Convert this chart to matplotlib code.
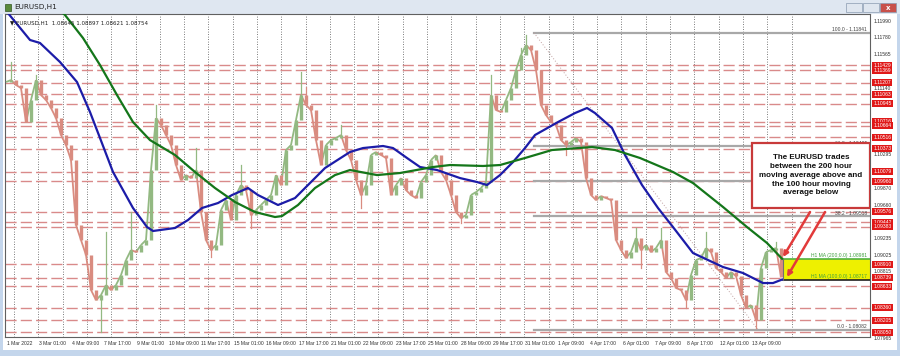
import numpy as np
import matplotlib
matplotlib.use("Agg")
import matplotlib.pyplot as plt
from matplotlib.patches import Rectangle
from matplotlib.collections import LineCollection
import matplotlib.transforms as mtransforms

# ── data ───────────────────────────────────────────────────────────────────
# EURUSD H1 closes, one value every 5 bars, 1 Mar 2022 -> 13 Apr 2022
STEP = 5
close = [
    1.11218, 1.11243, 1.11180, 1.11142, 1.10711, 1.10990, 1.11243, 1.11053,
    1.10990, 1.10889, 1.10762, 1.10547, 1.10420, 1.10230, 1.09407, 1.09217,
    1.09028, 1.08585, 1.08458, 1.08521, 1.08648, 1.08585, 1.08648, 1.08774,
    1.08964, 1.09091, 1.09066, 1.09154, 1.09217, 1.10104, 1.10762, 1.10673,
    1.10547, 1.10420, 1.10167, 1.09977, 1.10040, 1.10002, 1.10104, 1.09572,
    1.09217, 1.09091, 1.09154, 1.09597, 1.09724, 1.09471, 1.09787, 1.09914,
    1.09850, 1.09534, 1.09597, 1.09661, 1.09724, 1.09787, 1.10040, 1.09914,
    1.10357, 1.10420, 1.10737, 1.11053, 1.10927, 1.10863, 1.10483, 1.10167,
    1.10420, 1.10483, 1.10509, 1.10547, 1.10357, 1.10230, 1.09977, 1.09787,
    1.09914, 1.10294, 1.10332, 1.10294, 1.10256, 1.09787, 1.09914, 1.10002,
    1.09850, 1.09787, 1.09749, 1.09952, 1.10040, 1.10230, 1.10294, 1.10079,
    1.09977, 1.09787, 1.09572, 1.09496, 1.09534, 1.09787, 1.09825, 1.09876,
    1.09952, 1.11053, 1.10863, 1.10838, 1.10990, 1.11142, 1.11370, 1.11560,
    1.11686, 1.11623, 1.11370, 1.10927, 1.10800, 1.10711, 1.10673, 1.10483,
    1.10420, 1.10458, 1.10509, 1.10458, 1.10002, 1.09787, 1.09724, 1.09775,
    1.09749, 1.09724, 1.09217, 1.09091, 1.08990, 1.09066, 1.09243, 1.09091,
    1.09154, 1.09066, 1.09116, 1.09217, 1.08813, 1.08737, 1.08610, 1.08585,
    1.08458, 1.08774, 1.08964, 1.08990, 1.09116, 1.09066, 1.08863, 1.08813,
    1.08737, 1.08813, 1.08762, 1.08521, 1.08357, 1.08395, 1.08205, 1.08863,
    1.09066, 1.09091, 1.09116, 1.08754,
]
# notable wicks: index into close[] and the wick extreme
spike_idx = [1, 6, 19, 20, 25, 30, 38, 41, 47, 49, 59, 60, 67, 71, 91, 97,
             103, 104, 107, 112, 126, 127, 131, 136, 140, 150, 154]
spike_px = [1.11471, 1.11306, 1.08053, 1.09319, 1.09572, 1.10927, 1.10382,
            1.09002, 1.10167, 1.09370, 1.11344, 1.11155, 1.10673, 1.09623,
            1.09433, 1.11306, 1.11648, 1.11813, 1.11306, 1.10294, 1.09370,
            1.08863, 1.09370, 1.08357, 1.09319, 1.08103, 1.09192]

# 100 hour MA (blue) and 200 hour MA (green), bar position / value
ma100_bar = [2, 6, 24, 34, 54, 71, 84, 94, 107, 127, 141, 147, 169, 182, 196,
             212, 226, 242, 252, 272, 289, 302, 319, 344, 357, 377, 387, 401,
             414, 431, 454, 471, 481, 494, 507, 519, 529, 552, 569, 581, 589,
             606, 619, 636, 652, 667, 687, 717, 737, 757, 767, 776]
ma100 = [1.12090, 1.12028, 1.11750, 1.11712, 1.11471, 1.11218, 1.10838,
         1.10509, 1.10079, 1.09623, 1.09382, 1.09332, 1.09370, 1.09471,
         1.09623, 1.09686, 1.09787, 1.09876, 1.09787, 1.09661, 1.09749,
         1.09914, 1.10129, 1.10332, 1.10382, 1.10408, 1.10382, 1.10256,
         1.10142, 1.10104, 1.10002, 1.09952, 1.09914, 1.10040, 1.10205,
         1.10382, 1.10547, 1.10711, 1.10825, 1.10889, 1.10825, 1.10636,
         1.10294, 1.09914, 1.09623, 1.09382, 1.09053, 1.08876, 1.08800,
         1.08673, 1.08673, 1.08717]
ma200_bar = [55, 59, 77, 94, 111, 127, 144, 169, 189, 209, 229, 249, 269,
             276, 292, 309, 329, 344, 371, 394, 427, 444, 477, 494, 519, 546,
             586, 609, 634, 667, 687, 717, 741, 761, 776]
ma200 = [1.12110, 1.12066, 1.11775, 1.11433, 1.11053, 1.10711, 1.10483,
         1.10294, 1.10079, 1.09876, 1.09699, 1.09572, 1.09509, 1.09521,
         1.09661, 1.09876, 1.10040, 1.10104, 1.10040, 1.10066, 1.10142,
         1.10167, 1.10155, 1.10167, 1.10256, 1.10357, 1.10395, 1.10357,
         1.10256, 1.10079, 1.09939, 1.09636, 1.09382, 1.09180, 1.08981]

# horizontal support/resistance levels (red labels on the price scale)
red_levels = [1.11429, 1.11369, 1.11207, 1.11063, 1.10945, 1.10716, 1.10664,
              1.10516, 1.10373, 1.10079, 1.09960, 1.09576, 1.09442, 1.09383,
              1.08910, 1.08739, 1.08633, 1.08360, 1.08205, 1.08050]
scale_ticks = [1.11990, 1.11780, 1.11565, 1.11140, 1.10295, 1.09870, 1.09660,
               1.09235, 1.09025, 1.08815, 1.07965]

# Fibonacci retracement of the 31 Mar high -> 13 Apr low
fib_high, fib_low = 1.11841, 1.08082
fib_start, fib_end = 522, 752
fib_pcts = [100.0, 61.8, 50.0, 38.2, 0.0]

ma200_now, ma100_now = 1.08981, 1.08717

date_labels = ["1 Mar 2022", "3 Mar 01:00", "4 Mar 09:00", "7 Mar 17:00",
               "9 Mar 01:00", "10 Mar 09:00", "11 Mar 17:00", "15 Mar 01:00",
               "16 Mar 09:00", "17 Mar 17:00", "21 Mar 01:00", "22 Mar 09:00",
               "23 Mar 17:00", "25 Mar 01:00", "28 Mar 09:00", "29 Mar 17:00",
               "31 Mar 01:00", "1 Apr 09:00", "4 Apr 17:00", "6 Apr 01:00",
               "7 Apr 09:00", "8 Apr 17:00", "12 Apr 01:00", "13 Apr 09:00"]

note = ("The EURUSD trades\nbetween the 200 hour\nmoving average above and\n"
        "the 100 hour moving\naverage below")

# ── styling ─────────────────────────────────────────────────────────────────
UP = "#93b982"
DOWN = "#d98c80"
LEVEL = "#d98a8a"
FIB = "#a8a8a8"
BLUE = "#1c1ca8"
GREEN = "#14761a"
SMALL = dict(fontsize=3.6, family="Liberation Sans")

W, H = 900, 356
fig = plt.figure(figsize=(W / 100, H / 100), dpi=100)
fig.patch.set_facecolor("#c4d6ec")

# window client area + title bar
fig.patches.append(Rectangle((3 / W, 6 / H), 894 / W, 336 / H, transform=fig.transFigure,
                             fc="white", ec="none", zorder=-2))
fig.patches.append(Rectangle((0, 1 - 14 / H), 1, 14 / H, transform=fig.transFigure,
                             fc="#dfe7f1", ec="none", zorder=-2))
fig.patches.append(Rectangle((5 / W, 1 - 11 / H), 6 / W, 7 / H, transform=fig.transFigure,
                             fc="#5a8a3a", ec="#335522", lw=0.5, zorder=-1))
fig.text(14 / W, 1 - 7.5 / H, "EURUSD,H1", fontsize=5.2, va="center", color="#202020")
for bx, fc in [(846, "#dfe6ef"), (863, "#dfe6ef"), (880, "#c8504a")]:
    fig.patches.append(Rectangle((bx / W, 1 - 12 / H), 16 / W, 9 / H, transform=fig.transFigure,
                                 fc=fc, ec="#8a9ab0", lw=0.5, zorder=-1))
fig.text(888 / W, 1 - 7.5 / H, "x", fontsize=5, color="white", ha="center", va="center",
         weight="bold")

ax = fig.add_axes([5 / W, 19 / H, 865 / W, 323 / H])
ax.set_zorder(5)
ax.set_xlim(-1, 864)
ax.set_ylim(1.07990, 1.12079)
ax.set_xticks([])
ax.set_yticks([])
for s in ax.spines.values():
    s.set_color("#606060")
    s.set_linewidth(0.8)

# vertical dotted grid
for gx in np.arange(8, 790, 24.3):
    ax.axvline(gx, color="#505050", lw=0.6, ls=(0, (1, 2)), zorder=1)

# red levels
for lvl in red_levels:
    ax.axhline(lvl, color=LEVEL, lw=1.0, ls=(0, (8, 3)), zorder=1)

# fibonacci
fib_vals = [fib_low + p / 100 * (fib_high - fib_low) for p in fib_pcts]
for p, v in zip(fib_pcts, fib_vals):
    ax.plot([fib_start + 6, 864], [v, v], color=FIB, lw=1.6, zorder=2)
    if p != 50.0:
        ax.text(861, v + 0.00005, f"{p:.1f} - {v:.5f}", ha="right",
                va="bottom", color="#404040", zorder=3, **SMALL)
ax.plot([fib_start + 6, fib_end], [fib_high, fib_low], color="#c0a0a0", lw=0.7,
        ls=(0, (1, 2)), zorder=2)

# price: 5-bar blocks drawn as bodies, joined by a thin path, plus big wicks
c = np.array(close)
xs = np.arange(len(c)) * STEP
prev = np.r_[c[0], c[:-1]]
up = c >= prev
seg = np.stack([np.c_[xs[:-1], c[:-1]], np.c_[xs[1:], c[1:]]], axis=1)
ax.add_collection(LineCollection(seg, colors=np.where(up[1:], UP, DOWN), lw=1.3, zorder=3))
ax.vlines(xs[up], prev[up], c[up], color=UP, lw=2.4, zorder=3)
ax.vlines(xs[~up], c[~up], prev[~up], color=DOWN, lw=2.4, zorder=3)
for i, sp in zip(spike_idx, spike_px):
    col = UP if up[i] else DOWN
    ax.plot([xs[i], xs[i]], [c[i], sp], color=col, lw=0.9, zorder=3)

# moving averages
ax.plot(ma100_bar, ma100, color=BLUE, lw=1.6, zorder=4)
ax.plot(ma200_bar, ma200, color=GREEN, lw=1.6, zorder=4)

# yellow zone between the MAs
x0 = xs[-1] + 2
ax.add_patch(Rectangle((x0, ma100_now), 864 - x0, ma200_now - ma100_now,
                       fc="#eef000", ec="none", zorder=2))
ax.plot([x0, 864], [ma200_now] * 2, color="#50b040", lw=1.2, zorder=3)
ax.plot([x0, 864], [ma100_now] * 2, color="#202020", lw=1.2, zorder=3)
ax.plot([x0, x0], [ma100_now, ma200_now], color="#707070", lw=0.8, zorder=3)
ax.text(861, ma200_now + 0.00004, f"H1 MA (200;0.0) {ma200_now:.5f}",
        ha="right", va="bottom", color="#40a040", zorder=5, **SMALL)
ax.text(861, ma100_now + 0.00004, f"H1 MA (100;0.0) {ma100_now:.5f}",
        ha="right", va="bottom", color="#40a040", zorder=5, **SMALL)

# annotation box + arrows
ax.add_patch(Rectangle((746, 1.09623), 118, 1.10446 - 1.09623, fc="white",
                       ec="#c83a3a", lw=1.6, zorder=6))
ax.text(805, 1.10035, note, ha="center", va="center", fontsize=5.8, weight="bold",
        family="Liberation Sans", linespacing=1.35, color="#111111", zorder=7)
for tail, head in [((804, 1.09572), (777, 1.09002)), ((819, 1.09572), (781, 1.08750))]:
    ax.annotate("", xy=head, xytext=tail, zorder=7,
                arrowprops=dict(arrowstyle="-|>", color="#e23a3a", lw=1.8,
                                mutation_scale=7, shrinkA=0, shrinkB=0))

# chart header
ax.text(0.006, 0.982, "\u25bc EURUSD,H1  1.08645 1.08897 1.08621 1.08754",
        transform=ax.transAxes, fontsize=4.0, va="top", color="#202020", zorder=8)

# price scale on the right
tr = mtransforms.blended_transform_factory(ax.transAxes, ax.transData)
for t in scale_ticks:
    ax.text(1.004, t, f"{t:.5f}", transform=tr, va="center",
            ha="left", color="#303030", clip_on=False, **SMALL)
for lvl in red_levels:
    ax.text(1.004, lvl, f"{lvl:.5f}", transform=tr, va="center",
            ha="left", color="white", clip_on=False, zorder=9,
            bbox=dict(boxstyle="square,pad=0.2", fc="#e01818", ec="none"), **SMALL)

# time scale
tx = mtransforms.blended_transform_factory(ax.transData, ax.transAxes)
for k, lab in enumerate(date_labels):
    ax.text(1 + k * 32 * 1.0125, -0.012, lab, transform=tx, va="top", ha="left",
            color="#303030", clip_on=False, **SMALL)

fig.savefig("out.png", dpi=100)
